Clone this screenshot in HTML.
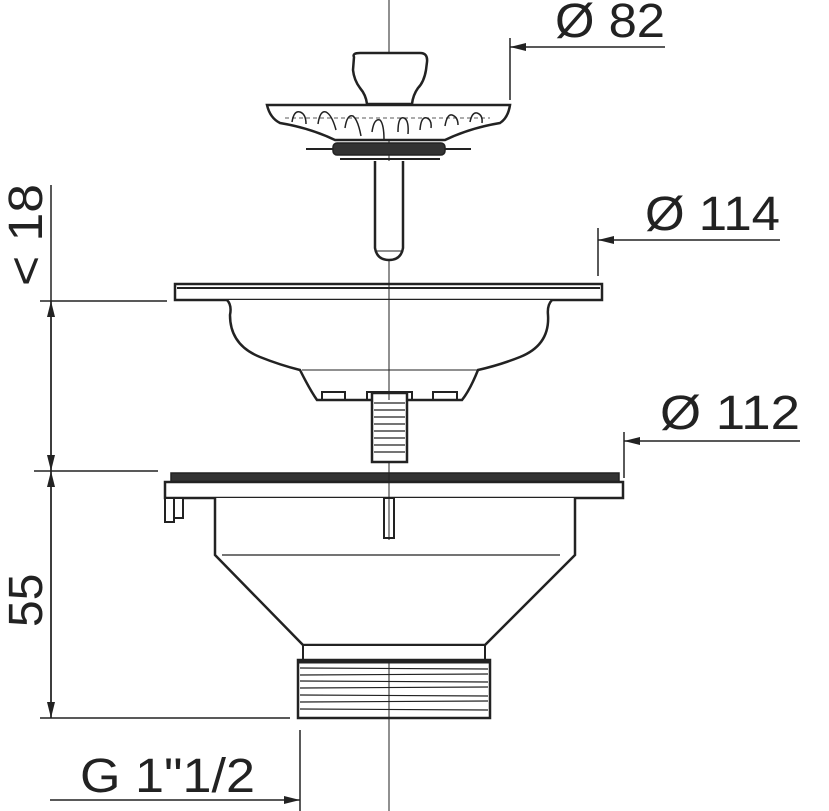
<!DOCTYPE html>
<html><head><style>
html,body{margin:0;padding:0;background:#fff}
svg{display:block}
text{font-family:"Liberation Sans",sans-serif;fill:#222}
</style></head><body>
<svg width="829" height="811" viewBox="0 0 829 811" xmlns="http://www.w3.org/2000/svg">
<defs>
<marker id="a" viewBox="0 0 16 10" refX="16" refY="5" markerWidth="16" markerHeight="10" markerUnits="userSpaceOnUse" orient="auto"><path d="M0,1 L16,5 L0,9 Z" fill="#222"/></marker>
</defs>
<g stroke="#222" fill="none">
<line x1="389" y1="0" x2="389" y2="811" stroke-width="1"/>
<path d="M354,57 Q352,53 360,53 L420,53 Q428,53 427,62 L426,70 Q424,82 418,88 Q413,95 412,104 L367,104 Q366,95 360,88 Q354,80 353,70 Z" fill="#fff" stroke-width="2.5"/>
<path d="M267,105 L510,105 Q508,118 500,123 Q470,128 445,140 L335,140 Q310,128 280,123 Q270,118 267,105 Z" fill="#fff" stroke-width="2.5"/>
<g stroke-width="1.5">
<path d="M292,122 q2,-12 8,-10 q6,2 6,12"/><path d="M318,124 q2,-14 8,-12 q6,3 10,18"/><path d="M345,128 q2,-14 8,-12 q5,4 8,20"/><path d="M372,132 q2,-14 8,-12 q4,4 4,20"/>
<path d="M398,132 q0,-16 6,-14 q5,2 4,16"/><path d="M420,130 q1,-14 7,-12 q5,2 4,10"/><path d="M445,126 q2,-12 7,-11 q6,2 6,10"/><path d="M470,122 q2,-10 7,-9 q6,2 5,10"/>
</g>
<line x1="285" y1="118" x2="490" y2="118" stroke-width="0.8" stroke-dasharray="4 3"/>
<line x1="306" y1="149" x2="471" y2="149" stroke-width="2"/>
<rect x="333" y="143" width="112" height="12" rx="4" fill="#333" stroke-width="1.5"/>
<line x1="340" y1="159" x2="440" y2="159" stroke-width="2"/>
<path d="M375,161 L375,248 Q377,260 389,260 Q401,260 403,248 L403,161" fill="#fff" stroke-width="2.5"/>
<line x1="375" y1="251" x2="403" y2="251" stroke-width="1"/>
<rect x="175" y="284" width="427" height="16" fill="#fff" stroke-width="2.5"/>
<line x1="177" y1="288" x2="600" y2="288" stroke-width="2"/>
<path d="M227,300 Q232,305 230,315 Q230,345 260,357 Q280,365 300,370 Q310,390 317,400 L462,400 Q470,390 478,370 Q500,365 520,357 Q550,345 548,315 Q547,305 552,300" fill="#fff" stroke-width="2.5"/>
<line x1="302" y1="370" x2="478" y2="370" stroke-width="1"/>
<path d="M322,400 L322,392 L345,392 L345,400 M367,400 L367,392 L412,392 L412,400 M433,400 L433,392 L457,392 L457,400" stroke-width="2"/>
<rect x="372" y="393" width="35" height="69" fill="#fff" stroke-width="2.5"/>
<g stroke-width="1.2"><line x1="374" y1="403" x2="405" y2="403"/><line x1="374" y1="410" x2="405" y2="410"/><line x1="374" y1="417" x2="405" y2="417"/><line x1="374" y1="424" x2="405" y2="424"/><line x1="374" y1="431" x2="405" y2="431"/><line x1="374" y1="438" x2="405" y2="438"/><line x1="374" y1="445" x2="405" y2="445"/><line x1="374" y1="452" x2="405" y2="452"/></g>
<rect x="171" y="473" width="448" height="9" fill="#333" stroke-width="1.5"/>
<rect x="165" y="482" width="458" height="16" fill="#fff" stroke-width="2.5"/>
<rect x="165" y="498" width="9" height="24" fill="#fff" stroke-width="2"/>
<rect x="174" y="498" width="9" height="20" fill="#fff" stroke-width="2"/>
<path d="M215,498 L215,555 L303,645 L485,645 L575,555 L575,498" fill="#fff" stroke-width="2.5"/>
<line x1="222" y1="555" x2="560" y2="555" stroke-width="1.2"/>
<rect x="384" y="498" width="10" height="40" fill="#fff" stroke-width="2"/>
<rect x="303" y="645" width="182" height="15" fill="#fff" stroke-width="2"/>
<rect x="298" y="660" width="192" height="58" fill="#fff" stroke-width="2.5"/>
<line x1="298" y1="662" x2="490" y2="662" stroke-width="3"/>
<g stroke-width="1.2"><line x1="300" y1="668" x2="488" y2="669"/><line x1="300" y1="675" x2="488" y2="674"/><line x1="300" y1="681" x2="488" y2="682"/><line x1="300" y1="688" x2="488" y2="687"/><line x1="300" y1="695" x2="488" y2="696"/><line x1="300" y1="702" x2="488" y2="701"/><line x1="300" y1="709" x2="488" y2="710"/></g>
<line x1="389" y1="660" x2="389" y2="718" stroke-width="1"/>
<line x1="389" y1="284" x2="389" y2="400" stroke-width="1"/>
<line x1="389" y1="473" x2="389" y2="540" stroke-width="1"/>
<g stroke-width="1.5">
<line x1="510" y1="38" x2="510" y2="100"/><line x1="665" y1="47" x2="510" y2="47" marker-end="url(#a)"/>
<line x1="598" y1="228" x2="598" y2="276"/><line x1="780" y1="240" x2="598" y2="240" marker-end="url(#a)"/>
<line x1="624" y1="432" x2="624" y2="478"/><line x1="800" y1="441" x2="624" y2="441" marker-end="url(#a)"/>
<line x1="51" y1="185" x2="51" y2="718"/>
<line x1="40" y1="301" x2="167" y2="301"/><line x1="34" y1="471" x2="158" y2="471"/><line x1="40" y1="718" x2="290" y2="718"/>
<line x1="51" y1="386" x2="51" y2="301" marker-end="url(#a)"/><line x1="51" y1="386" x2="51" y2="471" marker-end="url(#a)"/>
<line x1="51" y1="600" x2="51" y2="471" marker-end="url(#a)"/><line x1="51" y1="600" x2="51" y2="718" marker-end="url(#a)"/>
<line x1="300" y1="730" x2="300" y2="811"/><line x1="50" y1="800" x2="300" y2="800" marker-end="url(#a)"/>
</g>
</g>
<text x="555" y="37" font-size="48" textLength="110" lengthAdjust="spacingAndGlyphs">Ø 82</text>
<text x="645" y="230" font-size="48" textLength="135" lengthAdjust="spacingAndGlyphs">Ø 114</text>
<text x="660" y="429" font-size="48" textLength="140" lengthAdjust="spacingAndGlyphs">Ø 112</text>
<text x="80" y="792" font-size="48" textLength="175" lengthAdjust="spacingAndGlyphs">G 1"1/2</text>
<text transform="translate(42,286) rotate(-90)" font-size="48" textLength="102" lengthAdjust="spacingAndGlyphs">&lt; 18</text>
<text transform="translate(42,627) rotate(-90)" font-size="48">55</text>
</svg>
</body></html>
